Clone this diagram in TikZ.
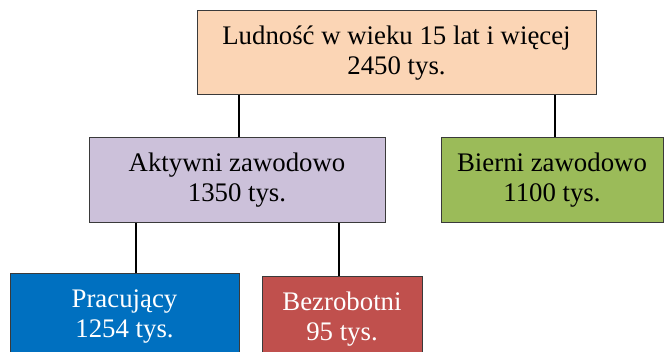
\documentclass[tikz,border=0pt]{standalone}
\usepackage{fontspec}
\setmainfont{Liberation Serif}
\definecolor{cpeach}{HTML}{FBD5B5}
\definecolor{cpurple}{HTML}{CCC1DA}
\definecolor{cgreen}{HTML}{9BBB59}
\definecolor{cblue}{HTML}{0070C0}
\definecolor{cred}{HTML}{C0504D}
\definecolor{cborder}{HTML}{3A3A3A}
\begin{document}
\begin{tikzpicture}[x=1pt,y=-1pt,
  box/.style={draw=cborder, line width=1pt, rectangle, inner sep=0pt, align=center,
    font=\fontsize{26.8}{30}\selectfont},
  link/.style={draw=black, line width=1.4pt}]
\useasboundingbox (0,0) rectangle (664,352);
\clip (0,0) rectangle (664,352);
\node[box, fill=cpeach, minimum width=399pt, minimum height=84pt] (top) at (396.5,53)
  {Ludność w wieku 15 lat i więcej\\2450 tys.};
\node[box, fill=cpurple, minimum width=296pt, minimum height=85pt] (akt) at (237,180.5)
  {Aktywni zawodowo\\1350 tys.};
\node[box, fill=cgreen, minimum width=222pt, minimum height=85pt] (bie) at (552,180.5)
  {Bierni zawodowo\\1100 tys.};
\node[box, fill=cblue, text=white, minimum width=229pt, minimum height=85pt] (pra) at (124.5,316.5)
  {Pracujący\\1254 tys.};
\node[box, fill=cred, text=white, minimum width=160pt, minimum height=85pt] (bez) at (342,319.5)
  {Bezrobotni\\95 tys.};
\draw[link] ([xshift=2pt]akt.north) -- ([xshift=2pt]akt.north |- top.south);
\draw[link] ([xshift=3pt]bie.north) -- ([xshift=3pt]bie.north |- top.south);
\draw[link] ([xshift=11.5pt]pra.north) -- ([xshift=11.5pt]pra.north |- akt.south);
\draw[link] ([xshift=-3pt]bez.north) -- ([xshift=-3pt]bez.north |- akt.south);
\end{tikzpicture}
\end{document}
